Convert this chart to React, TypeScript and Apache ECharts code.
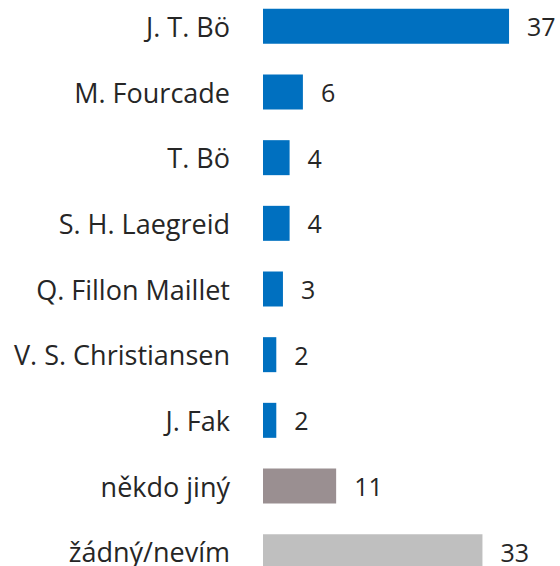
import React, { useEffect, useRef } from "react";
import * as echarts from "echarts";

const categories = [
  "J. T. Bö",
  "M. Fourcade",
  "T. Bö",
  "S. H. Laegreid",
  "Q. Fillon Maillet",
  "V. S. Christiansen",
  "J. Fak",
  "někdo jiný",
  "žádný/nevím",
];
const values = [37, 6, 4, 4, 3, 2, 2, 11, 33];
const colors = [
  "#0070C0",
  "#0070C0",
  "#0070C0",
  "#0070C0",
  "#0070C0",
  "#0070C0",
  "#0070C0",
  "#9A8F91",
  "#BFBFBF",
];

const FONT = "'Open Sans', 'Noto Sans', sans-serif";

export default function App() {
  const ref = useRef<HTMLDivElement>(null);
  useEffect(() => {
    if (!ref.current) return;
    const chart = echarts.init(ref.current, undefined, { renderer: "svg" });
    chart.setOption({
      animation: false,
      backgroundColor: "#ffffff",
      grid: { left: 263, top: 0.5, width: 266, height: 591, containLabel: false },
      xAxis: {
        type: "value",
        min: 0,
        max: 40,
        show: false,
      },
      yAxis: {
        type: "category",
        data: categories,
        inverse: true,
        axisLine: { show: false },
        axisTick: { show: false },
        splitLine: { show: false },
        axisLabel: {
          margin: 33,
          fontSize: 27,
          fontFamily: FONT,
          color: "#262626",
        },
      },
      series: [
        {
          type: "bar",
          barWidth: 35,
          data: values.map((v, i) => ({ value: v, itemStyle: { color: colors[i] } })),
          label: {
            show: true,
            position: "right",
            distance: 18,
            fontSize: 25,
            fontFamily: FONT,
            color: "#262626",
          },
        },
      ],
    });
    return () => chart.dispose();
  }, []);
  return (
    <div
      ref={ref}
      style={{ position: "absolute", left: 0, top: -7, width: 560, height: 600 }}
    />
  );
}
